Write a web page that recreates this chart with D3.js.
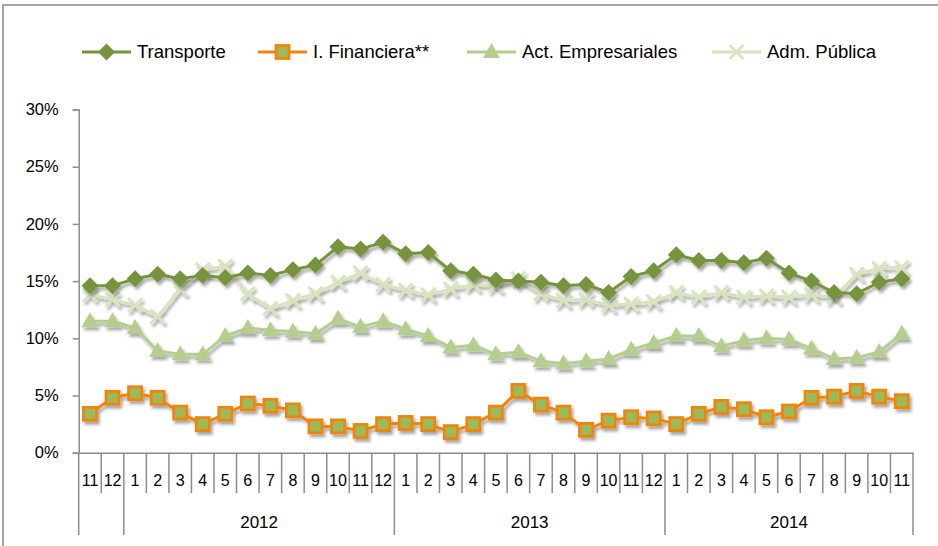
<!DOCTYPE html>
<html>
<head>
<meta charset="utf-8">
<script src="https://cdn.jsdelivr.net/npm/d3@7"></script>
<style>
  body { margin: 0; background: #fff; }
  svg { display: block; font-family: "Liberation Sans", Arial, sans-serif; }
</style>
</head>
<body>
<svg id="chart"></svg>
<script>
const monthLabels = ['11', '12',
  '1', '2', '3', '4', '5', '6', '7', '8', '9', '10', '11', '12',
  '1', '2', '3', '4', '5', '6', '7', '8', '9', '10', '11', '12',
  '1', '2', '3', '4', '5', '6', '7', '8', '9', '10', '11'];
const yearLabels = ['', '2012', '2013', '2014'];
const yearCounts = [2, 12, 12, 11];
const yTicks = [0, 5, 10, 15, 20, 25, 30];

const seriesNames = ['Transporte', 'I. Financiera**', 'Act. Empresariales', 'Adm. Pública'];

const transporte = [14.6, 14.6, 15.2, 15.6, 15.2, 15.5, 15.3, 15.7, 15.5, 16.0, 16.4, 18.0, 17.8, 18.4,
  17.4, 17.5, 15.9, 15.6, 15.1, 15.0, 14.9, 14.6, 14.7, 14.0, 15.4, 15.9,
  17.3, 16.8, 16.8, 16.6, 17.0, 15.7, 15.0, 14.0, 13.9, 14.9, 15.2];
const financiera = [3.4, 4.8, 5.2, 4.8, 3.5, 2.5, 3.4, 4.3, 4.1, 3.7, 2.3, 2.3, 1.9, 2.5,
  2.6, 2.5, 1.8, 2.5, 3.5, 5.4, 4.2, 3.5, 2.0, 2.8, 3.1, 3.0,
  2.5, 3.4, 4.0, 3.8, 3.1, 3.6, 4.8, 4.9, 5.4, 4.9, 4.5];
const empresariales = [11.5, 11.5, 10.9, 8.9, 8.6, 8.6, 10.2, 10.9, 10.7, 10.6, 10.4, 11.7, 11.0, 11.5,
  10.8, 10.2, 9.2, 9.4, 8.6, 8.8, 8.0, 7.8, 8.0, 8.2, 9.0, 9.6,
  10.2, 10.2, 9.3, 9.8, 10.0, 9.9, 9.1, 8.2, 8.3, 8.8, 10.4];
const admPublica = [13.8, 13.4, 12.9, 11.9, 14.3, 16.0, 16.3, 13.9, 12.6, 13.3, 13.9, 14.9, 15.7, 14.7,
  14.2, 13.8, 14.3, 14.7, 14.6, 15.2, 13.9, 13.3, 13.4, 12.9, 13.0, 13.2,
  14.0, 13.6, 14.0, 13.6, 13.7, 13.6, 13.8, 13.6, 15.6, 16.1, 16.2];

const W = 938, H = 546;
const svg = d3.select('#chart').attr('width', W).attr('height', H);

const defs = svg.append('defs');
const shadow = defs.append('filter').attr('id', 'shadow')
  .attr('x', '-20%').attr('y', '-20%').attr('width', '140%').attr('height', '160%');
shadow.append('feDropShadow')
  .attr('dx', 2).attr('dy', 3).attr('stdDeviation', 1.8)
  .attr('flood-color', '#000').attr('flood-opacity', 0.35);

// outer frame
svg.append('rect').attr('x', 3).attr('y', 5).attr('width', W + 10).attr('height', H + 10)
  .attr('fill', 'none').attr('stroke', '#a6a6a6').attr('stroke-width', 2);

const x = d3.scaleBand().domain(d3.range(monthLabels.length)).range([78.7, 913]).padding(0);
const y = d3.scaleLinear().domain([0, 30]).range([452.7, 109.5]);

const axisColor = '#8c8c8c';

// y axis
const yAxis = svg.append('g').attr('transform', 'translate(78.7,0)')
  .call(d3.axisLeft(y).tickValues(yTicks).tickFormat(d => d + '%').tickSize(6).tickPadding(14));
yAxis.select('.domain').attr('stroke', axisColor).attr('stroke-width', 1.5);
yAxis.selectAll('.tick line').attr('stroke', axisColor).attr('stroke-width', 1.5);
yAxis.selectAll('.tick text').attr('font-size', 16.5).attr('fill', '#000');

// x axis (month labels)
const xAxis = svg.append('g').attr('transform', `translate(0,${y(0)})`)
  .call(d3.axisBottom(x).tickFormat(i => monthLabels[i]).tickSize(0).tickPadding(22));
xAxis.select('.domain').attr('stroke', axisColor).attr('stroke-width', 1.5);
xAxis.selectAll('.tick text').attr('font-size', 16).attr('fill', '#000');

// month separators
const bounds = d3.range(monthLabels.length + 1).map(i => i < monthLabels.length ? x(i) : x.range()[1]);
const yearStarts = [0];
yearCounts.forEach((n, k) => yearStarts.push(yearStarts[k] + n));
svg.append('g').selectAll('line').data(bounds.map((b, i) => ({ b, i }))).join('line')
  .attr('x1', d => d.b).attr('x2', d => d.b)
  .attr('y1', y(0)).attr('y2', d => yearStarts.includes(d.i) ? 535 : 493)
  .attr('stroke', axisColor).attr('stroke-width', 1.5);

// year labels
svg.append('g').selectAll('text').data(yearLabels).join('text')
  .attr('x', (d, k) => (bounds[yearStarts[k]] + bounds[yearStarts[k + 1]]) / 2)
  .attr('y', 528).attr('text-anchor', 'middle').attr('font-size', 17).attr('fill', '#000')
  .text(d => d);

const line = d3.line().x((d, i) => x(i) + x.bandwidth() / 2).y(d => y(d));

const series = [
  { name: seriesNames[3], values: admPublica, color: '#d7e4bd', marker: 'x', width: 3 },
  { name: seriesNames[2], values: empresariales, color: '#b5ce8f', marker: 'triangle', width: 3 },
  { name: seriesNames[0], values: transporte, color: '#77933c', marker: 'diamond', width: 3 },
  { name: seriesNames[1], values: financiera, color: '#f0850f', marker: 'square', width: 3 }
];

function drawMarker(g, type, s) {
  if (type === 'diamond') {
    g.append('path').attr('d', 'M0,-8.5L8.5,0L0,8.5L-8.5,0Z').attr('fill', s.color);
  } else if (type === 'square') {
    g.append('rect').attr('x', -6.5).attr('y', -6.5).attr('width', 13).attr('height', 13)
      .attr('fill', '#9bbb59').attr('stroke', s.color).attr('stroke-width', 2.8);
  } else if (type === 'triangle') {
    g.append('path').attr('d', 'M0,-9L8.5,6L-8.5,6Z').attr('fill', s.color);
  } else if (type === 'x') {
    g.append('path').attr('d', 'M-7,-7L7,7M-7,7L7,-7').attr('stroke', s.color)
      .attr('stroke-width', 2.8).attr('fill', 'none');
  }
}

series.forEach(s => {
  const g = svg.append('g').attr('filter', 'url(#shadow)');
  g.append('path').datum(s.values).attr('d', line)
    .attr('fill', 'none').attr('stroke', s.color).attr('stroke-width', s.width)
    .attr('stroke-linejoin', 'round');
  s.values.forEach((v, i) => {
    const m = g.append('g').attr('transform', `translate(${x(i) + x.bandwidth() / 2},${y(v)})`);
    drawMarker(m, s.marker, s);
  });
});

// legend
const legendItems = [
  { s: series[2], x0: 82 },
  { s: series[3], x0: 258 },
  { s: series[1], x0: 467 },
  { s: series[0], x0: 712 }
];
const legend = svg.append('g');
legendItems.forEach(it => {
  const g = legend.append('g').attr('transform', `translate(${it.x0},52)`);
  g.append('line').attr('x1', 0).attr('x2', 49).attr('y1', 0).attr('y2', 0)
    .attr('stroke', it.s.color).attr('stroke-width', 3);
  const m = g.append('g').attr('transform', 'translate(24.5,0)');
  drawMarker(m, it.s.marker, it.s);
  g.append('text').attr('x', 55).attr('y', 0).attr('dy', '0.35em')
    .attr('font-size', 18.5).attr('fill', '#000').text(it.s.name);
});
</script>
</body>
</html>
